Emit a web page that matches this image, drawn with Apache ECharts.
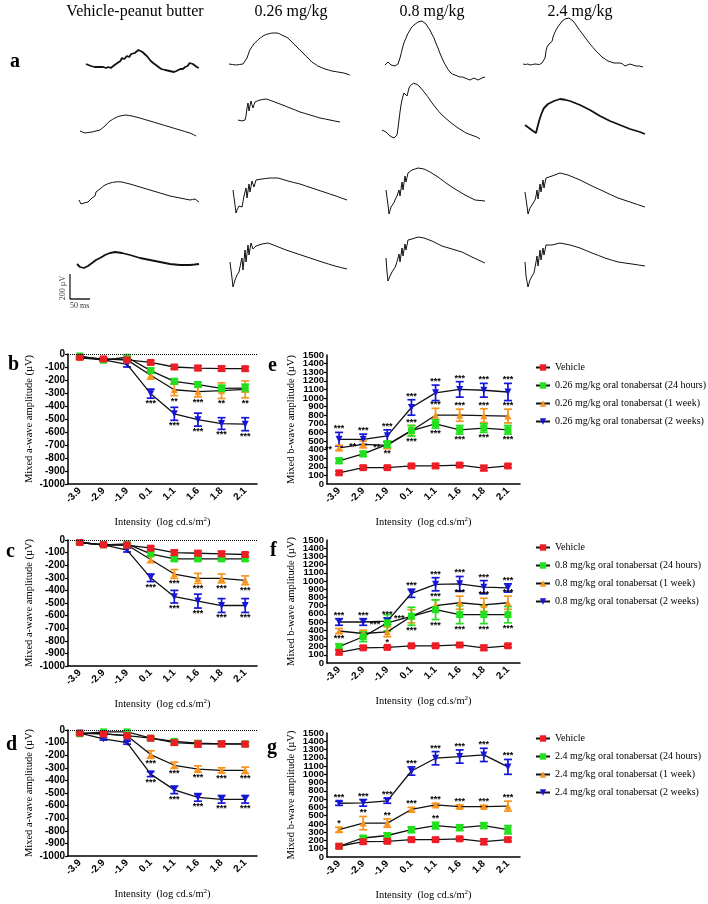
<!DOCTYPE html>
<html><head><meta charset="utf-8">
<script src="https://cdn.jsdelivr.net/npm/echarts@6/dist/echarts.min.js"></script>
<style>html,body{margin:0;padding:0;background:#fff}#c{width:708px;height:904px}</style>
</head><body><div id="c"></div>
<script>
// ---------- categories ----------
const categories = ['-3.9','-2.9','-1.9','0.1','1.1','1.6','1.8','2.1'];
const columnTitles = ['Vehicle-peanut butter','0.26 mg/kg','0.8 mg/kg','2.4 mg/kg'];

// ---------- ERG traces (time ms, amplitude µV relative to start baseline) ----------
const trace_r1c1 = [[0,0],[6,-8],[12,-16],[17,-8],[22,-24],[27,-32],[33,-24],[38,-32],[43,-24],[50,-32],[56,-24],[62,-32],[68,-16],[75,0],[80,16],[86,24],[90,48],[96,40],[102,64],[108,56],[113,80],[118,96],[122,88],[127,104],[131,112],[136,104],[141,96],[146,80],[152,64],[157,48],[162,24],[168,8],[173,0],[178,-16],[183,-32],[188,-40],[193,-56],[198,-48],[203,-64],[209,-56],[214,-64],[220,-64],[226,-56],[231,-48],[236,-40],[242,-40],[248,-24],[254,-16],[259,8],[263,16],[267,0],[272,-8],[277,-24],[282,-32]];
const trace_r1c2 = [[0,0],[8,-4],[17,-8],[26,-4],[35,0],[40,16],[45,48],[52,112],[58,140],[62,160],[67,176],[72,192],[78,208],[85,224],[91,234],[97,240],[104,246],[110,248],[115,250],[120,248],[126,242],[132,232],[140,220],[147,208],[155,184],[162,160],[170,136],[177,112],[185,88],[192,64],[200,40],[207,16],[215,0],[222,-16],[231,-28],[240,-40],[249,-48],[257,-56],[265,-60],[272,-64],[280,-68],[287,-72],[295,-80],[302,-88]];
const trace_r1c3 = [[0,0],[4,16],[7.5,24],[11,8],[15,0],[20,-8],[25,-8],[29,0],[32.5,8],[35,32],[37.5,56],[41,100],[45,152],[48,184],[52.5,216],[57,250],[62.5,280],[67,304],[72.5,320],[77,336],[82.5,344],[87,352],[92.5,352],[97,344],[102.5,328],[107,304],[112.5,280],[117,248],[122.5,216],[127,176],[132.5,136],[137,96],[142.5,56],[147,24],[152.5,-8],[157,-32],[162.5,-56],[168,-72],[175,-80],[181,-88],[187.5,-96],[194,-96],[200,-104],[206,-112],[212.5,-120],[217,-112],[222.5,-104],[227,-112],[232.5,-120],[237,-112],[242.5,-104],[250,-96]];
const trace_r1c4 = [[0,0],[6,-4],[12,0],[17.5,-8],[24,-4],[30,0],[35,0],[41,-4],[47.5,8],[52,24],[55,48],[58,110],[60,136],[62.5,152],[65,160],[67.5,150],[70,144],[72.5,180],[75,216],[79,248],[82.5,272],[87,296],[92.5,320],[98,344],[105,360],[110,366],[115,368],[120,360],[125,344],[131,320],[137.5,288],[145,256],[152.5,224],[160,192],[167.5,160],[175,132],[182.5,104],[190,80],[197.5,56],[205,40],[212.5,24],[220,16],[227.5,8],[235,8],[242.5,8],[249,0],[255,-16],[261,-8],[267.5,0],[275,-8],[282.5,-16],[291,-16],[300,-24]];
const trace_r2c1 = [[0,8],[6,0],[12.5,-8],[20,-4],[30,0],[40,8],[50,16],[56,32],[62.5,48],[69,72],[75,88],[81,100],[87.5,112],[94,122],[100,128],[107,132],[115,136],[122,132],[130,128],[140,120],[150,112],[162,100],[175,88],[187,76],[200,64],[212,52],[225,40],[237,28],[250,16],[262,4],[275,-8],[283,-20],[290,-32]];
const trace_r2c2 = [[0,8],[5,0],[10,0],[15,8],[17.5,8],[20,40],[22.5,104],[25,144],[27.5,80],[30,120],[32.5,160],[35,130],[37.5,104],[40,130],[42.5,152],[48,160],[55,168],[62,172],[70,176],[77,170],[85,160],[95,148],[105,136],[118,120],[130,104],[143,88],[155,72],[168,60],[180,48],[193,36],[205,24],[218,16],[230,8],[242,0],[255,-8]];
const trace_r2c3 = [[0,56],[5,48],[10,40],[15,24],[20,8],[25,0],[30,-8],[34,-4],[37.5,16],[40,72],[42.5,136],[45,200],[47.5,256],[50,296],[52.5,328],[55,352],[57.5,360],[60,344],[62.5,328],[65,360],[67.5,392],[71,412],[75,424],[79,430],[82.5,432],[88,420],[95,400],[101,376],[107.5,352],[114,324],[120,296],[127,264],[135,232],[142,204],[150,176],[160,148],[170,120],[180,96],[190,72],[200,52],[210,32],[220,20],[230,8],[237,0],[245,-16]];
const trace_r2c4 = [[0,0],[5,-12],[10,-24],[15,-36],[20,-48],[27.5,-64],[30,-32],[32.5,0],[36,40],[40,80],[44,112],[47.5,136],[52,152],[57.5,168],[65,180],[72.5,192],[80,200],[87.5,208],[100,202],[112.5,192],[125,176],[137.5,160],[150,140],[162.5,120],[175,96],[187.5,72],[200,52],[212.5,32],[225,16],[237.5,0],[250,-16],[262.5,-32],[275,-44],[287.5,-56],[300,-72]];
const trace_r3c1 = [[0,0],[2.5,-16],[5,-32],[9,-28],[12.5,-24],[17,-20],[22.5,-16],[27,0],[32.5,16],[36,24],[40,32],[42.5,64],[47,76],[52.5,88],[58,104],[65,120],[71,128],[77.5,136],[84,140],[90,144],[98,146],[107.5,144],[117,136],[127.5,128],[140,116],[152.5,104],[165,92],[177.5,80],[190,68],[202.5,56],[215,44],[227.5,32],[240,24],[252.5,16],[265,8],[277.5,0],[284,4],[290,8],[295,-4],[300,-16]];
const trace_r3c2 = [[0,40],[2.5,-20],[5,-80],[7.5,-144],[10,-120],[12.5,-104],[15,-88],[17.5,-80],[20,-88],[22.5,-96],[25,-52],[27.5,-8],[30,24],[32.5,56],[35,-24],[37.5,32],[40,88],[42.5,24],[45,68],[47.5,112],[50,88],[52.5,64],[55,92],[57.5,120],[65,124],[72.5,128],[82,132],[92.5,136],[102,136],[112.5,136],[125,124],[137.5,112],[152,100],[167.5,88],[182,72],[197.5,56],[212,40],[227.5,24],[242,8],[257.5,-8],[271,-24],[285,-40]];
const trace_r3c3 = [[0,40],[2.5,-20],[5,-80],[7.5,-152],[10,-124],[12.5,-96],[15,-88],[17.5,-80],[20,-60],[22.5,-40],[25,-24],[27.5,-8],[30,16],[32.5,40],[35,-8],[37.5,48],[40,104],[42.5,40],[45,96],[47.5,152],[50,104],[52.5,140],[55,176],[60,188],[65,200],[72.5,208],[80,216],[87.5,212],[95,208],[102.5,196],[110,184],[120,164],[130,144],[140,120],[150,96],[161,72],[172.5,48],[185,24],[197.5,0],[210,-20],[222.5,-40],[235,-44],[247.5,-48]];
const trace_r3c4 = [[0,24],[2.5,-32],[5,-88],[7.5,-152],[10,-128],[12.5,-104],[15,-92],[17.5,-80],[20,-76],[22.5,-72],[25,-40],[27.5,-8],[30,40],[32.5,-32],[35,28],[37.5,88],[40,24],[42.5,72],[45,120],[47.5,56],[50,96],[52.5,136],[60,144],[67.5,152],[77.5,164],[87.5,176],[97.5,168],[107.5,160],[122.5,140],[137.5,120],[152.5,96],[167.5,72],[184,48],[200,24],[216,0],[232.5,-24],[247.5,-40],[262.5,-56],[281,-76],[300,-96]];
const trace_r4c1 = [[0,0],[4,-12],[7.5,-24],[12.5,-28],[17.5,-32],[22.5,-24],[27.5,-16],[32.5,-4],[37.5,8],[42.5,20],[47.5,32],[52.5,40],[57.5,48],[64,60],[70,72],[76,80],[82.5,88],[89,92],[95,96],[104,92],[112.5,88],[122.5,80],[132.5,72],[145,60],[157.5,48],[170,40],[182.5,32],[195,24],[207.5,16],[220,8],[232.5,0],[245,-4],[257.5,-8],[270,-8],[282.5,-8],[294,-4],[305,0]];
const trace_r4c2 = [[0,0],[2.5,-64],[5,-128],[7.5,-200],[10,-172],[12.5,-144],[15,-124],[17.5,-104],[20,-92],[22.5,-80],[25,-40],[27.5,0],[30,32],[32.5,-64],[35,16],[37.5,96],[40,0],[42.5,68],[45,136],[47.5,56],[50,104],[52.5,152],[57.5,104],[61,116],[65,128],[72.5,136],[80,144],[87.5,148],[95,152],[105,140],[115,128],[127.5,112],[140,96],[155,80],[170,64],[185,48],[200,32],[215,16],[230,0],[246,-16],[262.5,-32],[277,-44],[292.5,-56]];
const trace_r4c3 = [[0,0],[2.5,-112],[5,-184],[7.5,-164],[10,-144],[12.5,-128],[15,-112],[17.5,-104],[20,-96],[22.5,-76],[25,-56],[27.5,-28],[30,0],[32.5,32],[35,-32],[37.5,24],[40,80],[42.5,16],[45,64],[47.5,112],[50,64],[52.5,104],[55,144],[60,148],[65,152],[72.5,160],[80,168],[87.5,164],[95,160],[105,148],[115,136],[127.5,116],[140,96],[152.5,84],[165,72],[177.5,60],[190,48],[202.5,28],[215,8],[231,-16],[247.5,-40]];
const trace_r4c4 = [[0,0],[2.5,-112],[5,-156],[7.5,-200],[10,-172],[12.5,-144],[15,-128],[17.5,-112],[20,-100],[22.5,-88],[25,-44],[27.5,0],[30,48],[32.5,-32],[35,32],[37.5,96],[40,16],[42.5,64],[45,112],[47.5,56],[50,96],[52.5,136],[60,136],[67.5,136],[77.5,144],[87.5,152],[100,144],[112.5,136],[125,124],[137.5,112],[152.5,92],[167.5,72],[184,52],[200,32],[216,16],[232.5,0],[250,-8],[267.5,-16],[284,-24],[300,-32]];
const scaleBarV = [[0,200],[0,0],[50,0]];

// ---------- panel b: a-wave, 0.26 mg/kg ----------
const b_veh = [-25,-38,-45,-65,-100,-108,-112,-113];
const b_veh_err = [12,10,12,15,15,18,18,15];
const b_24h = [-15,-48,-25,-128,-210,-235,-265,-262];
const b_24h_err = [10,10,10,20,20,20,25,30];
const b_1wk = [-25,-40,-45,-163,-275,-290,-282,-272];
const b_1wk_err = [10,10,15,30,45,40,60,65];
const b_2wk = [-30,-45,-80,-305,-460,-505,-535,-540];
const b_2wk_err = [10,10,20,35,50,50,45,50];
const b_1wk_sig = ['','','','','b**','b***','b**','b**'];
const b_2wk_sig = ['','','','b***','b***','b***','b***','b***'];

// ---------- panel c: a-wave, 0.8 mg/kg ----------
const c_veh = [-20,-38,-40,-65,-100,-105,-110,-115];
const c_veh_err = [10,10,10,15,20,20,20,15];
const c_24h = [-20,-38,-30,-110,-150,-150,-150,-150];
const c_24h_err = [10,8,10,15,15,15,15,15];
const c_1wk = [-20,-38,-40,-155,-270,-305,-305,-320];
const c_1wk_err = [10,10,15,25,35,40,35,35];
const c_2wk = [-20,-38,-80,-300,-450,-485,-520,-520];
const c_2wk_err = [10,10,15,30,50,55,55,55];
const c_1wk_sig = ['','','','','b***','b***','b***','b***'];
const c_2wk_sig = ['','','','b***','b***','b***','b***','b***'];

// ---------- panel d: a-wave, 2.4 mg/kg ----------
const d_veh = [-25,-30,-45,-65,-100,-110,-110,-112];
const d_veh_err = [10,10,10,12,20,25,22,18];
const d_24h = [-30,-15,-15,-65,-90,-105,-110,-110];
const d_24h_err = [10,8,8,10,12,12,12,12];
const d_1wk = [-25,-30,-45,-195,-280,-310,-320,-320];
const d_1wk_err = [10,10,10,30,25,25,20,25];
const d_2wk = [-25,-70,-100,-350,-475,-535,-550,-550];
const d_2wk_err = [10,10,12,20,30,30,30,30];
const d_1wk_sig = ['','','','b***','b***','b***','b***','b***'];
const d_2wk_sig = ['','','','b***','b***','b***','b***','b***'];

// ---------- panel e: b-wave, 0.26 mg/kg ----------
const e_veh = [130,190,190,210,210,220,185,210];
const e_veh_err = [20,20,15,20,25,20,30,20];
const e_24h = [270,350,460,620,700,630,650,630];
const e_24h_err = [30,30,40,60,50,50,50,50];
const e_1wk = [420,460,450,620,800,800,795,790];
const e_1wk_err = [30,40,40,60,80,70,80,80];
const e_2wk = [520,520,560,890,1060,1100,1090,1070];
const e_2wk_err = [80,60,70,90,90,90,80,100];
const e_24h_sig = ['','','b**','b***','b***','b***','b***','b***'];
const e_1wk_sig = ['l**','l**','l**','a***','a***','a***','a***','a***'];
const e_2wk_sig = ['a***','a***','a***','a***','a***','a***','a***','a***'];

// ---------- panel f: b-wave, 0.8 mg/kg ----------
const f_veh = [130,185,190,210,210,220,185,210];
const f_veh_err = [25,20,15,15,20,20,30,20];
const f_24h = [200,320,490,570,650,590,590,590];
const f_24h_err = [30,60,100,110,120,110,110,100];
const f_1wk = [390,360,380,570,700,735,710,735];
const f_1wk_err = [30,40,60,80,70,80,80,80];
const f_2wk = [500,500,510,850,960,965,925,915];
const f_2wk_err = [40,40,40,50,80,90,80,50];
const f_24h_sig = ['','','l***','b***','b***','b***','b***','b***'];
const f_1wk_sig = ['b***','','b*','l***','a***','a***','a***','a***'];
const f_2wk_sig = ['a***','a***','a***','a***','a***','a***','a***','a***'];

// ---------- panel g: b-wave, 2.4 mg/kg ----------
const g_veh = [130,185,190,210,210,220,185,210];
const g_veh_err = [20,25,20,20,20,20,35,20];
const g_24h = [130,230,260,330,380,355,380,330];
const g_24h_err = [20,25,30,35,40,35,35,50];
const g_1wk = [330,410,410,575,630,610,610,615];
const g_1wk_err = [30,80,50,25,20,20,15,60];
const g_2wk = [650,655,680,1040,1195,1215,1235,1090];
const g_2wk_err = [25,40,30,50,80,80,80,90];
const g_24h_sig = ['','','','','a**','','',''];
const g_1wk_sig = ['a*','a**','a**','a***','a***','a***','a***','a***'];
const g_2wk_sig = ['a***','a***','a***','a***','a***','a***','a***','a***'];

// ---------- build ----------
const SERIF = '"Liberation Serif", "DejaVu Serif", serif';
const SANS = '"Liberation Sans", Arial, sans-serif';
const COLORS = {veh:'#ee1c25', h24:'#22e01e', wk1:'#f7941d', wk2:'#1515d8'};
const grids = [], xAxes = [], yAxes = [], series = [], errSeries = [], graphics = [], legends = [];

const traces = [
  [trace_r1c1, trace_r1c2, trace_r1c3, trace_r1c4],
  [trace_r2c1, trace_r2c2, trace_r2c3, trace_r2c4],
  [trace_r3c1, trace_r3c2, trace_r3c3, trace_r3c4],
  [trace_r4c1, trace_r4c2, trace_r4c3, trace_r4c4]
];
const tracePos = [
  [[86,64],[229,64],[385,65],[523,64]],
  [[80,132],[238,121],[382,137],[525,125]],
  [[79,200],[233,195],[386,195],[525,195]],
  [[77,264],[230,262],[386,258],[525,262]]
];
const traceLW = [[1.8,1,1,1],[1,1,1,1.8],[1,1,1,1],[1.8,1,1,1]];

function addTraceGrid(data, pos, lw, color) {
  const gi = grids.length, xi = xAxes.length, yi = yAxes.length;
  grids.push({left: pos[0], top: pos[1] - 60, width: 140, height: 120});
  xAxes.push({type:'value', gridIndex: gi, min: 0, max: 350, show: false});
  yAxes.push({type:'value', gridIndex: gi, min: -480, max: 480, show: false});
  series.push({type:'line', xAxisIndex: xi, yAxisIndex: yi, data, showSymbol: false, silent: true,
    lineStyle: {color: color || '#111', width: lw}});
}
traces.forEach((row, r) => row.forEach((d, c) => addTraceGrid(d, tracePos[r][c], traceLW[r][c])));
addTraceGrid(scaleBarV, [70, 299], 1.3, '#222');

function errRender(color, sig) {
  return function (params, api) {
    const i = api.value(0), v = api.value(1), e = api.value(2);
    const top = api.coord([i, v + e]), bot = api.coord([i, v - e]), mid = api.coord([i, v]);
    const x = top[0], cw = 4;
    const st = {stroke: color, lineWidth: 1.7};
    const ch = [
      {type:'line', shape:{x1:x, y1:top[1], x2:x, y2:bot[1]}, style: st},
      {type:'line', shape:{x1:x-cw, y1:top[1], x2:x+cw, y2:top[1]}, style: st},
      {type:'line', shape:{x1:x-cw, y1:bot[1], x2:x+cw, y2:bot[1]}, style: st}
    ];
    const s = sig ? sig[params.dataIndex] : '';
    if (s) {
      const p = s[0], t = s.slice(1);
      let tx = x, ty, va = 'middle', al = 'center';
      if (p === 'a') { ty = top[1] + 1; va = 'bottom'; }
      else if (p === 'b') { ty = bot[1] + 1; va = 'top'; }
      else { tx = x - 7; ty = mid[1] + 2; al = 'right'; }
      ch.push({type:'text', z2: 10, style:{text: t, x: tx, y: ty, align: al, verticalAlign: va,
        font: 'bold 9px ' + SANS, fill: '#000'}});
    }
    return {type:'group', children: ch};
  };
}

const fmt = v => String(v);

function addPanel(p) {
  const gi = grids.length, xi = xAxes.length, yi = yAxes.length;
  const isA = p.min < 0;
  const labelStyle = {fontSize: isA ? 10 : 9.5, fontWeight: 'bold', color: '#000', fontFamily: SANS, margin: 3, formatter: fmt};
  grids.push({left: p.left, top: p.top, width: p.width, height: p.height});
  xAxes.push({type:'category', gridIndex: gi, data: categories, boundaryGap: true,
    axisLine: {onZero: false, lineStyle: {color:'#000', width: 1.5}},
    axisTick: {alignWithLabel: true, length: 3, lineStyle: {color:'#000', width: 1.2}},
    axisLabel: {rotate: 45, fontSize: 10, fontWeight: 'bold', color: '#000', fontFamily: SANS, margin: 5, interval: 0},
    name: 'Intensity  (log cd.s/m{sup|2})', nameLocation: 'middle', nameGap: 32,
    nameTextStyle: {fontFamily: SERIF, fontSize: 10.5, color: '#000',
      rich: {sup: {fontFamily: SERIF, fontSize: 7, color: '#000', verticalAlign: 'top', padding: [0,0,5,0]}}}
  });
  yAxes.push({type:'value', gridIndex: gi, position: 'left', min: p.min, max: p.max, interval: 100,
    axisLine: {show: true, onZero: false, lineStyle: {color:'#000', width: 1.5}},
    axisTick: {show: true, length: 3, lineStyle: {color:'#000', width: 1.2}},
    splitLine: {show: false},
    axisLabel: Object.assign({}, labelStyle, isA ? {showMinLabel: true, showMaxLabel: true}
                                              : {showMinLabel: false, showMaxLabel: false}),
    name: p.yName, nameLocation: 'middle', nameGap: isA ? 33 : 30,
    nameTextStyle: {fontFamily: SERIF, fontSize: 10.5, color: '#000'}
  });
  if (!isA) {
    // end labels (0 and max) drawn by a companion axis so dense labels are not dropped
    yAxes.push({type:'value', gridIndex: gi, position: 'left', offset: 0, min: p.min, max: p.max, interval: p.max - p.min,
      axisLine: {show: false, onZero: false}, axisTick: {show: false}, splitLine: {show: false},
      axisLabel: Object.assign({}, labelStyle, {showMinLabel: true, showMaxLabel: true})});
  }
  p.groups.forEach((g, k) => {
    const ln = {type:'line', name: g.name, xAxisIndex: xi, yAxisIndex: yi, data: g.vals,
      symbol: g.symbol, symbolSize: g.size, symbolRotate: g.rot || 0, z: 4,
      itemStyle: {color: g.color, borderWidth: 0}, lineStyle: {color: '#111', width: 1.3}};
    if (p.zero && k === 0) {
      ln.markLine = {silent: true, symbol: 'none', label: {show: false},
        lineStyle: {type: 'dotted', color: '#000', width: 1}, data: [{yAxis: 0}]};
    }
    series.push(ln);
    errSeries.push({type:'custom', name: g.name, xAxisIndex: xi, yAxisIndex: yi, z: 3,
      data: g.vals.map((v, i) => [i, v, g.errs[i]]), encode: {x: 0, y: 1},
      renderItem: errRender(g.color, g.sig)});
  });
}

function groups(dose, veh, vehE, h24, h24E, wk1, wk1E, wk2, wk2E, s24, s1, s2) {
  return [
    {name: dose + ' oral tonabersat (2 weeks)', color: COLORS.wk2, symbol: 'triangle', rot: 180, size: 7, vals: wk2, errs: wk2E, sig: s2},
    {name: dose + ' oral tonabersat (1 week)', color: COLORS.wk1, symbol: 'triangle', size: 7, vals: wk1, errs: wk1E, sig: s1},
    {name: dose + ' oral tonabersat (24 hours)', color: COLORS.h24, symbol: 'rect', size: 7, vals: h24, errs: h24E, sig: s24},
    {name: 'Vehicle', color: COLORS.veh, symbol: 'rect', size: 7, vals: veh, errs: vehE, sig: null}
  ];
}

const aName = 'Mixed a-wave amplitude (\u00b5V)';
const bName = 'Mixed b-wave amplitude (\u00b5V)';
addPanel({left: 68, top: 354, width: 189, height: 130, min: -1000, max: 0, yName: aName, zero: true,
  groups: groups('0.26 mg/kg', b_veh, b_veh_err, b_24h, b_24h_err, b_1wk, b_1wk_err, b_2wk, b_2wk_err, null, b_1wk_sig, b_2wk_sig)});
addPanel({left: 68, top: 540, width: 189, height: 126, min: -1000, max: 0, yName: aName, zero: true,
  groups: groups('0.8 mg/kg', c_veh, c_veh_err, c_24h, c_24h_err, c_1wk, c_1wk_err, c_2wk, c_2wk_err, null, c_1wk_sig, c_2wk_sig)});
addPanel({left: 68, top: 730, width: 189, height: 126, min: -1000, max: 0, yName: aName, zero: true,
  groups: groups('2.4 mg/kg', d_veh, d_veh_err, d_24h, d_24h_err, d_1wk, d_1wk_err, d_2wk, d_2wk_err, null, d_1wk_sig, d_2wk_sig)});
addPanel({left: 327, top: 355, width: 193, height: 129, min: 0, max: 1500, yName: bName,
  groups: groups('0.26 mg/kg', e_veh, e_veh_err, e_24h, e_24h_err, e_1wk, e_1wk_err, e_2wk, e_2wk_err, e_24h_sig, e_1wk_sig, e_2wk_sig)});
addPanel({left: 327, top: 540, width: 193, height: 123, min: 0, max: 1500, yName: bName,
  groups: groups('0.8 mg/kg', f_veh, f_veh_err, f_24h, f_24h_err, f_1wk, f_1wk_err, f_2wk, f_2wk_err, f_24h_sig, f_1wk_sig, f_2wk_sig)});
addPanel({left: 327, top: 733, width: 193, height: 124, min: 0, max: 1500, yName: bName,
  groups: groups('2.4 mg/kg', g_veh, g_veh_err, g_24h, g_24h_err, g_1wk, g_1wk_err, g_2wk, g_2wk_err, g_24h_sig, g_1wk_sig, g_2wk_sig)});

function addLegend(dose, top) {
  legends.push({orient: 'vertical', left: 530, top: top, itemWidth: 14, itemHeight: 8, itemGap: 7,
    selectedMode: false,
    textStyle: {fontFamily: SERIF, fontSize: 10, color: '#000', lineHeight: 11},
    data: ['Vehicle', dose + ' oral tonabersat (24 hours)', dose + ' oral tonabersat (1 week)', dose + ' oral tonabersat (2 weeks)']});
}
addLegend('0.26 mg/kg', 357);
addLegend('0.8 mg/kg', 537);
addLegend('2.4 mg/kg', 728);

// texts
const titleX = [135, 291, 432, 580];
columnTitles.forEach((t, i) => graphics.push({type:'text', x: titleX[i], y: 12,
  style: {text: t, font: '16px ' + SERIF, fill: '#000', align: 'center', verticalAlign: 'middle'}}));
const panelLabels = [['a', 10, 62], ['b', 8, 365], ['c', 6, 552], ['d', 6, 745], ['e', 268, 366], ['f', 270, 551], ['g', 267, 748]];
panelLabels.forEach(l => graphics.push({type:'text', x: l[1], y: l[2],
  style: {text: l[0], font: 'bold 20px ' + SERIF, fill: '#000', verticalAlign: 'middle'}}));
graphics.push({type:'text', x: 63, y: 288, rotation: Math.PI / 2,
  style: {text: '200 \u00b5V', font: '8px ' + SERIF, fill: '#444', align: 'center', verticalAlign: 'middle'}});
graphics.push({type:'text', x: 70, y: 302,
  style: {text: '50 ms', font: '8px ' + SERIF, fill: '#333', align: 'left', verticalAlign: 'top'}});

const chart = echarts.init(document.getElementById('c'), null, {renderer: 'canvas'});
chart.setOption({animation: false, backgroundColor: '#fff', grid: grids, xAxis: xAxes, yAxis: yAxes,
  series: series.concat(errSeries), legend: legends, graphic: {elements: graphics}});
</script></body></html>
